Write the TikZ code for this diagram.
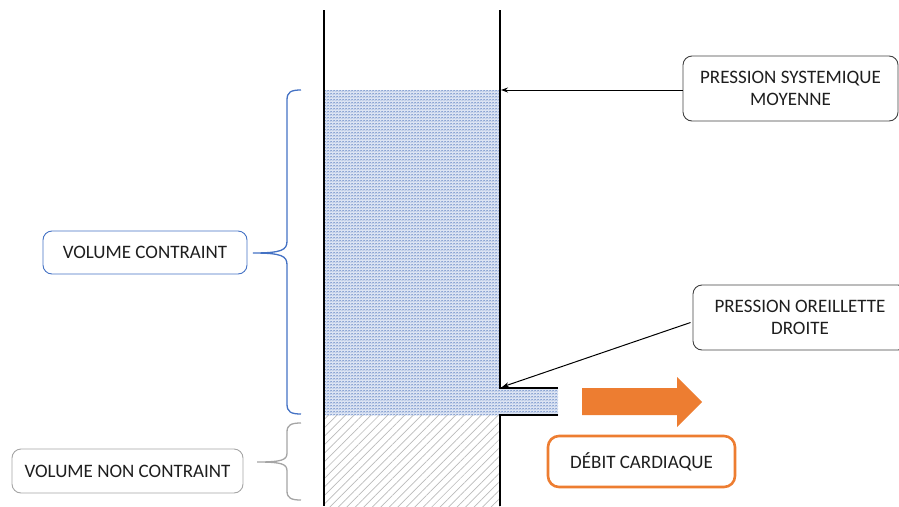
\documentclass[tikz,border=0pt]{standalone}
\usepackage{fontspec}
\setmainfont{Carlito}
\usetikzlibrary{patterns.meta,arrows.meta}
\definecolor{bblue}{HTML}{4472C4}
\definecolor{bgray}{HTML}{A5A5A5}
\definecolor{borange}{HTML}{ED7D31}
\definecolor{txt}{HTML}{1E1E1E}
\definecolor{bdark}{HTML}{404040}
\definecolor{wfill}{HTML}{DCE4F3}
\definecolor{wline}{HTML}{5F82C2}
\tikzdeclarepattern{name=zigzag, type=uncolored,
  bounding box={(0pt,0pt) and (3pt,3pt)}, tile size={(3pt,3pt)},
  code={\draw[line width=0.5pt] (0pt,0.8pt) -- (1.5pt,2.2pt) -- (3pt,0.8pt);}}
\begin{document}
\begin{tikzpicture}[x=1pt,y=-1pt,
  wall/.style={line width=1.5pt, black},
  lbl/.style={draw, rounded corners=9pt, line width=0.9pt, text=txt, align=center,
    font=\fontsize{19}{22}\selectfont, inner sep=0pt},
  pointer/.style={line width=1pt, -{Stealth[length=7pt,width=5pt]}},
  brace/.style={line width=1.3pt}]
\useasboundingbox (0,0) rectangle (899,506);
% fluid
\fill[wfill] (325,90) rectangle (500,415);
\fill[wfill] (500,388) rectangle (558,415);
\fill[pattern=zigzag, pattern color=wline] (325,90) rectangle (500,415);
\fill[pattern=zigzag, pattern color=wline] (500,388) rectangle (558,415);
\fill[pattern={Lines[angle=45,distance=6pt,line width=0.7pt]}, pattern color=bgray!75] (325,415) rectangle (500,506);
% walls
\draw[wall] (324,10) -- (324,506);
\draw[wall] (500,10) -- (500,388) -- (558,388);
\draw[wall] (558,415) -- (500,415) -- (500,506);
% orange arrow
\fill[borange] (582,388) -- (677,388) -- (677,377) -- (702,402) -- (677,427) -- (677,415) -- (582,415) -- cycle;
% labels
\node[lbl, draw=bdark, minimum width=215pt, minimum height=65pt] (psm) at (790.5,88.5) {PRESSION SYSTEMIQUE\\MOYENNE};
\node[lbl, draw=bdark, minimum width=214pt, minimum height=65pt] (pod) at (800,317.5) {PRESSION OREILLETTE\\DROITE};
\node[lbl, draw=bblue, minimum width=204pt, minimum height=43pt] (vc) at (145,252.5) {VOLUME CONTRAINT};
\node[lbl, draw=bgray, minimum width=231pt, minimum height=44pt] (vnc) at (127.5,471) {VOLUME NON CONTRAINT};
\node[lbl, draw=borange, line width=2.6pt, rounded corners=11pt, minimum width=187pt, minimum height=51pt] (dc) at (641.5,461.5) {DÉBIT CARDIAQUE};
% pointers
\coordinate (psmtip) at (501,90);
\coordinate (podtip) at (502,387);
\draw[pointer] (psm.west |- psmtip) -- (psmtip);
\draw[pointer] (pod.west) ++(-2,5) -- (podtip);
% braces
\draw[brace, bblue] (301,90) .. controls (291,90) and (287,92) .. (287,100) -- (287,241)
  .. controls (287,250) and (282,253) .. (253,253)
  .. controls (282,253) and (287,256) .. (287,265) -- (287,404)
  .. controls (287,412) and (291,414) .. (301,414);
\draw[brace, bgray] (301,423) .. controls (291,423) and (287,425) .. (287,432) -- (287,453)
  .. controls (287,460) and (282,462) .. (257,462)
  .. controls (282,462) and (287,464) .. (287,471) -- (287,491)
  .. controls (287,498) and (291,500) .. (301,500);
\end{tikzpicture}
\end{document}
